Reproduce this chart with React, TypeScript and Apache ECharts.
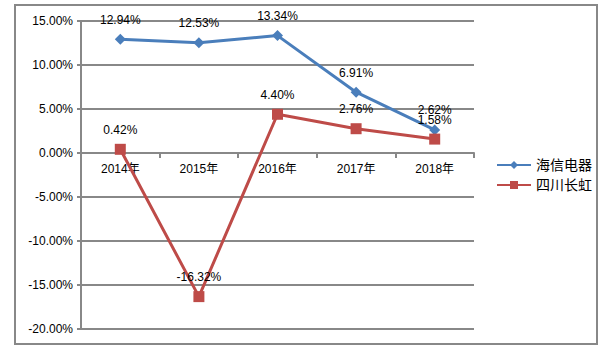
import React, { useEffect, useRef } from "react";
import * as echarts from "echarts";

const categories = ["2014年", "2015年", "2016年", "2017年", "2018年"];
const hisense = [12.94, 12.53, 13.34, 6.91, 2.62];
const changhong = [0.42, -16.32, 4.4, 2.76, 1.58];
const seriesNames = ["海信电器", "四川长虹"];

const FONT = "'Liberation Sans', 'Noto Sans CJK SC', sans-serif";
const GRAY = "#888888";
const Y_MIN = -20;
const Y_MAX = 15;
const GRID_TOP = 21;
const GRID_H = 308;
const ZERO_OFFSET = -(GRID_H * (0 - Y_MIN)) / (Y_MAX - Y_MIN);

export default function App() {
  const ref = useRef<HTMLDivElement>(null);
  useEffect(() => {
    document.body.style.margin = "0";
    const chart = echarts.init(ref.current!, undefined, { renderer: "svg" });
    chart.setOption({
      animation: false,
      backgroundColor: "#ffffff",
      textStyle: { fontFamily: FONT },
      graphic: [
        {
          type: "rect",
          shape: { x: 15, y: 5, width: 582, height: 339 },
          style: { fill: "none", stroke: GRAY, lineWidth: 2 },
          silent: true,
        },
      ],
      grid: { left: 81, top: GRID_TOP, width: 393, height: GRID_H },
      legend: {
        orient: "vertical",
        left: 491,
        top: 153,
        itemWidth: 34,
        itemHeight: 10,
        itemGap: 6,
        textStyle: { fontSize: 14, color: "#000", fontFamily: FONT },
        data: seriesNames,
      },
      xAxis: {
        type: "category",
        data: categories,
        boundaryGap: true,
        position: "bottom",
        offset: ZERO_OFFSET,
        axisLine: { onZero: false, lineStyle: { color: GRAY, width: 2 } },
        axisTick: { show: true, length: 5, lineStyle: { color: GRAY, width: 2 } },
        axisLabel: { color: "#000", fontSize: 12, margin: 10, fontFamily: FONT },
      },
      yAxis: {
        type: "value",
        min: Y_MIN,
        max: Y_MAX,
        interval: 5,
        axisLine: { show: true, lineStyle: { color: GRAY, width: 2 } },
        axisTick: { show: true, length: 4, lineStyle: { color: GRAY, width: 2 } },
        axisLabel: {
          color: "#000",
          fontSize: 12,
          margin: 8,
          fontFamily: FONT,
          formatter: (v: number) => v.toFixed(2) + "%",
        },
        splitLine: { show: true, lineStyle: { color: GRAY, width: 2 } },
      },
      series: [
        {
          name: seriesNames[0],
          type: "line",
          data: hisense,
          symbol: "diamond",
          symbolSize: 11,
          color: "#4a7ebb",
          lineStyle: { width: 3, color: "#4a7ebb" },
          itemStyle: { color: "#4a7ebb" },
          label: {
            show: true,
            position: "top",
            distance: 8,
            color: "#000",
            fontSize: 12,
            fontFamily: FONT,
            formatter: (p: any) => p.value.toFixed(2) + "%",
          },
        },
        {
          name: seriesNames[1],
          type: "line",
          data: changhong,
          symbol: "rect",
          symbolSize: 11,
          color: "#be4b48",
          lineStyle: { width: 3, color: "#be4b48" },
          itemStyle: { color: "#be4b48" },
          label: {
            show: true,
            position: "top",
            distance: 8,
            color: "#000",
            fontSize: 12,
            fontFamily: FONT,
            formatter: (p: any) => p.value.toFixed(2) + "%",
          },
        },
      ],
    });
    return () => chart.dispose();
  }, []);
  return <div ref={ref} style={{ width: 606, height: 351 }} />;
}
